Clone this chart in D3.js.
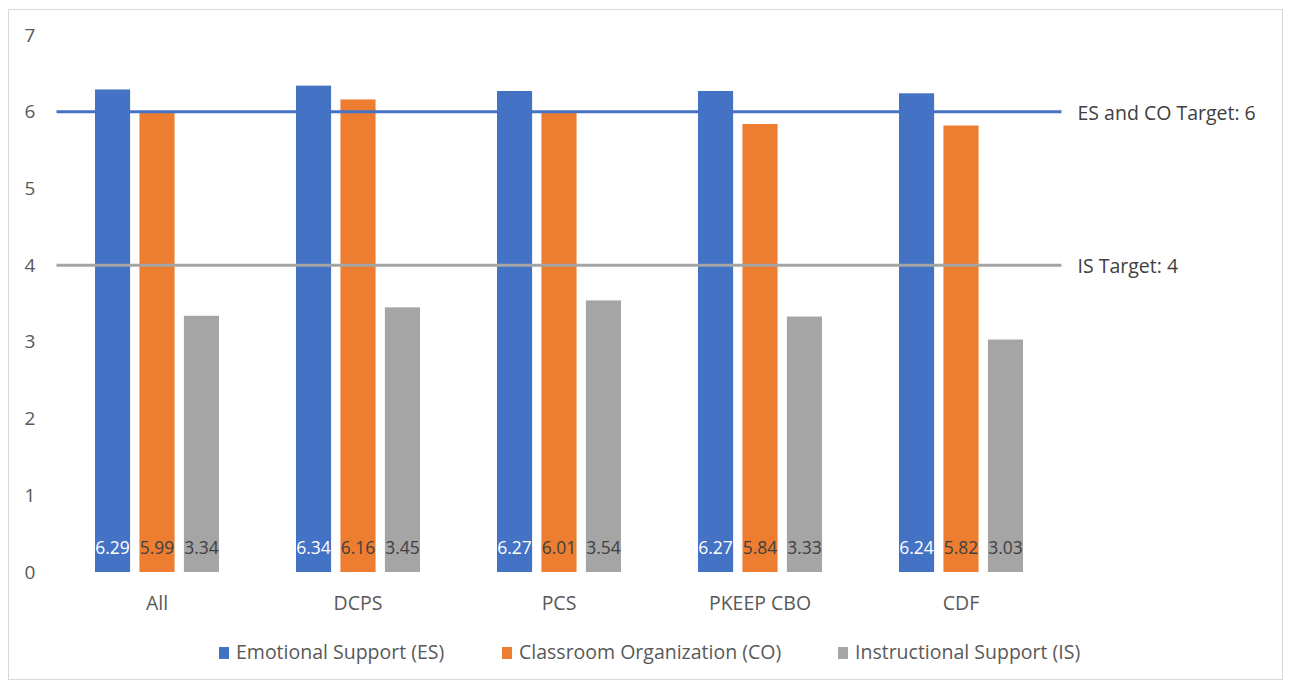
<!DOCTYPE html>
<html>
<head>
<meta charset="utf-8">
<script src="https://cdn.jsdelivr.net/npm/d3@7"></script>
<style>
  html, body { margin: 0; padding: 0; background: #ffffff; }
  svg { display: block; }
  text { font-family: "Open Sans", "Noto Sans", sans-serif; }
</style>
</head>
<body>
<svg id="chart" width="1291" height="687"></svg>
<script>
// CLASS domain scores by program
const categories = ["All", "DCPS", "PCS", "PKEEP CBO", "CDF"];
const seriesNames = ["Emotional Support (ES)", "Classroom Organization (CO)", "Instructional Support (IS)"];
const esValues = [6.29, 6.34, 6.27, 6.27, 6.24];
const coValues = [5.99, 6.16, 6.01, 5.84, 5.82];
const isValues = [3.34, 3.45, 3.54, 3.33, 3.03];
const yTicks = [0, 1, 2, 3, 4, 5, 6, 7];
const targetValues = [6, 4];
const targetLabels = ["ES and CO Target: 6", "IS Target: 4"];

const colors = ["#4472C4", "#ED7D31", "#A5A5A5"];
const labelColors = ["#ffffff", "#404040", "#404040"];
const series = [esValues, coValues, isValues];

const svg = d3.select("#chart");

// outer chart frame
svg.append("rect")
  .attr("x", 8.5).attr("y", 9.5)
  .attr("width", 1274).attr("height", 670)
  .attr("fill", "#ffffff")
  .attr("stroke", "#d9d9d9").attr("stroke-width", 1);

const x0 = d3.scaleBand()
  .domain(categories)
  .range([56.5, 1061.5])
  .paddingInner(0.383)
  .paddingOuter(0.1915);

const x1 = d3.scaleBand()
  .domain(d3.range(series.length))
  .range([0, x0.bandwidth()])
  .paddingInner(0.21);

const y = d3.scaleLinear().domain([0, 7]).range([572, 35]);

// y axis labels (no axis line)
const yAxis = d3.axisLeft(y).tickValues(yTicks).tickSize(0).tickPadding(0).tickFormat(d3.format("d"));
const gy = svg.append("g").attr("transform", "translate(36,0)").call(yAxis);
gy.select(".domain").remove();
gy.selectAll("text")
  .attr("fill", "#595959")
  .attr("font-size", 19)
  .attr("text-anchor", "middle")
  .attr("x", -6);

// bars
const groups = svg.append("g").selectAll("g")
  .data(categories)
  .join("g")
  .attr("transform", d => `translate(${x0(d)},0)`);

groups.selectAll("rect")
  .data((d, i) => series.map((s, k) => ({ k, v: s[i] })))
  .join("rect")
  .attr("x", d => x1(d.k))
  .attr("y", d => y(d.v))
  .attr("width", x1.bandwidth())
  .attr("height", d => y(0) - y(d.v))
  .attr("fill", d => colors[d.k]);

// value labels near the base of each bar
groups.selectAll("text.val")
  .data((d, i) => series.map((s, k) => ({ k, v: s[i] })))
  .join("text")
  .attr("class", "val")
  .attr("x", d => x1(d.k) + x1.bandwidth() / 2)
  .attr("y", y(0) - 24)
  .attr("dy", "0.35em")
  .attr("text-anchor", "middle")
  .attr("font-size", 17.5)
  .attr("fill", d => labelColors[d.k])
  .text(d => d3.format(".2f")(d.v));

// target lines
const xStart = x0.range()[0];
const xEnd = x0.range()[1];
const targetColors = [colors[0], colors[2]];
targetValues.forEach((t, i) => {
  svg.append("line")
    .attr("x1", xStart).attr("x2", xEnd)
    .attr("y1", y(t)).attr("y2", y(t))
    .attr("stroke", targetColors[i])
    .attr("stroke-width", 3);
  svg.append("text")
    .attr("x", xEnd + 16)
    .attr("y", y(t) + 1)
    .attr("dy", "0.35em")
    .attr("font-size", 19.5)
    .attr("fill", "#404040")
    .text(targetLabels[i]);
});

// category labels
const xAxis = d3.axisBottom(x0).tickSize(0).tickPadding(0);
const gx = svg.append("g").attr("transform", `translate(0,${y(0) + 31})`).call(xAxis);
gx.select(".domain").remove();
gx.selectAll("text")
  .attr("fill", "#595959")
  .attr("font-size", 19.5)
  .attr("dy", "0.35em")
  .attr("y", 0);

// legend
const legendX = [219, 502, 838];
const legend = svg.append("g");
seriesNames.forEach((name, i) => {
  legend.append("rect")
    .attr("x", legendX[i]).attr("y", 647)
    .attr("width", 10).attr("height", 12)
    .attr("fill", colors[i]);
  legend.append("text")
    .attr("x", legendX[i] + 17)
    .attr("y", 652)
    .attr("dy", "0.35em")
    .attr("font-size", 19.5)
    .attr("fill", "#595959")
    .text(name);
});
</script>
</body>
</html>
